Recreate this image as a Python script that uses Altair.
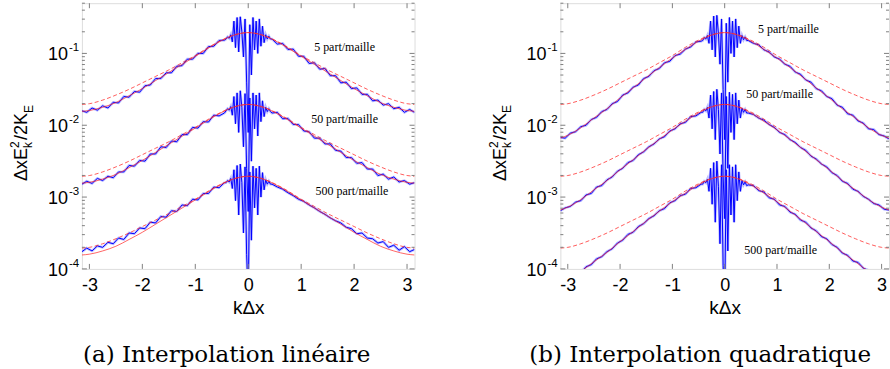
import altair as alt
import pandas as pd

# ---------------- data (log10 of the plotted quantity) ----------------
# abscissa kΔx of the measured (noisy, blue) spectra
k_meas = [-3.14, -3.05, -2.95, -2.85, -2.75, -2.65, -2.55, -2.45, -2.35, -2.25,
          -2.15, -2.05, -1.95, -1.85, -1.75, -1.65, -1.55, -1.45, -1.35, -1.25,
          -1.15, -1.05, -0.95, -0.85, -0.75, -0.65, -0.55, -0.45,
          -0.42, -0.39, -0.36, -0.33, -0.30, -0.27, -0.24, -0.21, -0.18, -0.15,
          -0.12, -0.09, -0.06, -0.03, 0.00, 0.03, 0.06, 0.09, 0.12, 0.15,
          0.18, 0.21, 0.24, 0.27, 0.30, 0.33, 0.36, 0.39, 0.42,
          0.45, 0.55, 0.65, 0.75, 0.85, 0.95, 1.05, 1.15, 1.25, 1.35,
          1.45, 1.55, 1.65, 1.75, 1.85, 1.95, 2.05, 2.15, 2.25, 2.35,
          2.45, 2.55, 2.65, 2.75, 2.85, 2.95, 3.05, 3.14]

# (a) linear interpolation, measured
lin_5_log = ([-1.80, -1.82, -1.76, -1.79, -1.73, -1.76, -1.68, -1.69, -1.60, -1.61, -1.53, -1.54, -1.45, -1.44,
              -1.35, -1.35, -1.27, -1.27, -1.18, -1.17, -1.08, -1.08, -1.00, -1.00, -0.905, -0.90, -0.82, -0.815]
             + [-0.80, -0.77, -0.79, -0.74, -0.84, -0.55, -0.92, -0.50, -0.98, -0.49, -0.70, -1.05, -0.52, -1.40,
                -2.10, -0.60, -1.30, -0.50, -0.95, -0.55, -1.00, -0.52, -0.90, -0.62, -0.85, -0.74, -0.80, -0.76, -0.80]
             + [-0.80, -0.87, -0.86, -0.945, -0.94, -1.04, -1.04, -1.14, -1.13, -1.22, -1.21, -1.31, -1.31, -1.41,
                -1.40, -1.49, -1.48, -1.57, -1.57, -1.66, -1.65, -1.72, -1.70, -1.77, -1.75, -1.82, -1.78, -1.82])
lin_50_log = ([-2.82, -2.78, -2.81, -2.74, -2.77, -2.71, -2.73, -2.65, -2.65, -2.56, -2.57, -2.49, -2.50, -2.40,
               -2.40, -2.30, -2.31, -2.22, -2.23, -2.13, -2.13, -2.03, -2.04, -1.95, -1.955, -1.86, -1.87, -1.83]
              + [-1.80, -1.77, -1.79, -1.74, -1.86, -1.60, -1.98, -1.55, -2.10, -1.52, -1.75, -2.30, -1.56, -2.60,
                 -3.20, -1.62, -2.50, -1.55, -2.05, -1.58, -2.15, -1.55, -1.95, -1.66, -1.88, -1.75, -1.81, -1.77, -1.81]
              + [-1.83, -1.82, -1.91, -1.905, -1.99, -1.99, -2.08, -2.09, -2.18, -2.18, -2.26, -2.26, -2.35, -2.36,
                 -2.45, -2.45, -2.53, -2.52, -2.61, -2.61, -2.70, -2.68, -2.75, -2.72, -2.79, -2.77, -2.82, -2.80])
lin_500_log = ([-3.76, -3.71, -3.75, -3.68, -3.70, -3.63, -3.65, -3.57, -3.59, -3.50, -3.51, -3.43, -3.44, -3.35,
                -3.36, -3.27, -3.28, -3.19, -3.20, -3.11, -3.12, -3.03, -3.04, -2.95, -2.95, -2.86, -2.87, -2.80]
               + [-2.80, -2.77, -2.79, -2.74, -2.88, -2.62, -3.05, -2.56, -3.25, -2.54, -2.80, -3.50, -2.58, -3.80,
                  -4.40, -2.65, -3.60, -2.57, -3.15, -2.60, -3.25, -2.57, -3.00, -2.66, -2.90, -2.76, -2.82, -2.78, -2.82]
               + [-2.82, -2.86, -2.89, -2.94, -2.98, -3.03, -3.06, -3.11, -3.15, -3.20, -3.24, -3.29, -3.33, -3.36,
                  -3.42, -3.44, -3.51, -3.50, -3.57, -3.58, -3.64, -3.62, -3.70, -3.67, -3.74, -3.69, -3.76, -3.73])

# (b) quadratic interpolation, measured
quad_5_log = ([-2.17, -2.18, -2.11, -2.09, -2.02, -2.00, -1.92, -1.89, -1.81, -1.78, -1.70, -1.67, -1.58, -1.55,
               -1.47, -1.44, -1.35, -1.32, -1.24, -1.21, -1.13, -1.11, -1.03, -1.01, -0.94, -0.91, -0.84, -0.83]
              + [-0.82, -0.78, -0.80, -0.75, -0.86, -0.55, -0.95, -0.48, -1.05, -0.47, -0.72, -1.15, -0.52, -1.50,
                 -2.20, -0.58, -1.40, -0.50, -1.00, -0.55, -1.05, -0.52, -0.92, -0.62, -0.86, -0.75, -0.81, -0.77, -0.82]
              + [-0.82, -0.86, -0.88, -0.95, -0.98, -1.05, -1.08, -1.15, -1.18, -1.26, -1.29, -1.37, -1.40, -1.49,
                 -1.52, -1.60, -1.63, -1.72, -1.75, -1.84, -1.86, -1.94, -1.97, -2.05, -2.06, -2.13, -2.15, -2.19])
quad_50_log = ([-3.19, -3.15, -3.13, -3.07, -3.05, -2.97, -2.95, -2.86, -2.84, -2.76, -2.72, -2.64, -2.60, -2.52,
                -2.49, -2.41, -2.37, -2.30, -2.26, -2.19, -2.16, -2.08, -2.05, -1.98, -1.96, -1.88, -1.87, -1.82]
               + [-1.82, -1.78, -1.80, -1.75, -1.90, -1.58, -2.05, -1.53, -2.20, -1.50, -1.78, -2.40, -1.55, -2.70,
                  -3.30, -1.60, -2.60, -1.54, -2.10, -1.57, -2.20, -1.55, -1.98, -1.65, -1.90, -1.76, -1.82, -1.78, -1.83]
               + [-1.83, -1.85, -1.90, -1.93, -1.99, -2.03, -2.10, -2.13, -2.20, -2.24, -2.31, -2.35, -2.43, -2.47,
                  -2.54, -2.58, -2.66, -2.70, -2.78, -2.81, -2.89, -2.92, -2.99, -3.03, -3.09, -3.11, -3.17, -3.18])
quad_500_log = ([-4.20, -4.12, -4.14, -4.06, -4.05, -3.97, -3.94, -3.86, -3.83, -3.76, -3.72, -3.64, -3.60, -3.52,
                 -3.49, -3.41, -3.37, -3.30, -3.26, -3.19, -3.16, -3.08, -3.05, -2.98, -2.96, -2.88, -2.87, -2.82]
                + [-2.82, -2.78, -2.80, -2.75, -2.92, -2.60, -3.10, -2.52, -3.35, -2.50, -2.85, -3.65, -2.55, -3.95,
                   -4.50, -2.62, -3.75, -2.55, -3.25, -2.58, -3.35, -2.55, -3.05, -2.65, -2.92, -2.77, -2.83, -2.79, -2.84]
                + [-2.83, -2.84, -2.91, -2.93, -3.01, -3.03, -3.11, -3.13, -3.21, -3.24, -3.32, -3.35, -3.43, -3.47,
                   -3.55, -3.58, -3.66, -3.70, -3.78, -3.81, -3.89, -3.91, -3.99, -4.02, -4.09, -4.10, -4.17, -4.18])

# theoretical curves (red)
k_theo = [-3.1416, -3.0, -2.75, -2.5, -2.25, -2.0, -1.75, -1.5, -1.25, -1.0, -0.75, -0.5, -0.25, 0.0,
          0.25, 0.5, 0.75, 1.0, 1.25, 1.5, 1.75, 2.0, 2.25, 2.5, 2.75, 3.0, 3.1416]
lin_th_5_log = [-1.806, -1.795, -1.75, -1.685, -1.59, -1.49, -1.378, -1.265, -1.153, -1.04, -0.925, -0.82, -0.742, -0.71,
                -0.742, -0.82, -0.925, -1.04, -1.153, -1.265, -1.378, -1.49, -1.59, -1.685, -1.75, -1.795, -1.806]
lin_th_50_log = [-2.806, -2.795, -2.75, -2.685, -2.59, -2.49, -2.378, -2.265, -2.153, -2.04, -1.925, -1.82, -1.742, -1.71,
                 -1.742, -1.82, -1.925, -2.04, -2.153, -2.265, -2.378, -2.49, -2.59, -2.685, -2.75, -2.795, -2.806]
lin_th_500_log = [-3.806, -3.795, -3.75, -3.685, -3.59, -3.49, -3.378, -3.265, -3.153, -3.04, -2.925, -2.82, -2.742, -2.71,
                  -2.742, -2.82, -2.925, -3.04, -3.153, -3.265, -3.378, -3.49, -3.59, -3.685, -3.75, -3.795, -3.806]
quad_th_5_log = [-2.18, -2.14, -2.035, -1.90, -1.77, -1.62, -1.48, -1.335, -1.197, -1.065, -0.945, -0.83, -0.745, -0.71,
                 -0.745, -0.83, -0.945, -1.065, -1.197, -1.335, -1.48, -1.62, -1.77, -1.90, -2.035, -2.14, -2.18]
quad_th_50_log = [-3.18, -3.14, -3.035, -2.90, -2.77, -2.62, -2.48, -2.335, -2.197, -2.065, -1.945, -1.83, -1.745, -1.71,
                  -1.745, -1.83, -1.945, -2.065, -2.197, -2.335, -2.48, -2.62, -2.77, -2.90, -3.035, -3.14, -3.18]
quad_th_500_log = [-4.18, -4.14, -4.035, -3.90, -3.77, -3.62, -3.48, -3.335, -3.197, -3.065, -2.945, -2.83, -2.745, -2.71,
                   -2.745, -2.83, -2.945, -3.065, -3.197, -3.335, -3.48, -3.62, -3.77, -3.90, -4.035, -4.14, -4.18]
dash_5_log = [-1.71, -1.70, -1.65, -1.58, -1.50, -1.41, -1.32, -1.23, -1.13, -1.03, -0.915, -0.815, -0.74, -0.71,
              -0.74, -0.815, -0.915, -1.03, -1.13, -1.23, -1.32, -1.41, -1.50, -1.58, -1.65, -1.70, -1.71]
dash_50_log = [-2.71, -2.70, -2.65, -2.58, -2.50, -2.41, -2.32, -2.23, -2.13, -2.03, -1.915, -1.815, -1.74, -1.71,
               -1.74, -1.815, -1.915, -2.03, -2.13, -2.23, -2.32, -2.41, -2.50, -2.58, -2.65, -2.70, -2.71]
dash_500_log = [-3.71, -3.70, -3.65, -3.58, -3.50, -3.41, -3.32, -3.23, -3.13, -3.03, -2.915, -2.815, -2.74, -2.71,
                -2.74, -2.815, -2.915, -3.03, -3.13, -3.23, -3.32, -3.41, -3.50, -3.58, -3.65, -3.70, -3.71]

# labels of the curves
note_text = ["5 part/maille", "50 part/maille", "500 part/maille"]
lin_note_k = [1.82, 1.82, 1.96]
lin_note_log = [-0.917, -1.92, -2.92]
quad_note_k = [1.22, 1.05, 1.07]
quad_note_log = [-0.667, -1.57, -3.74]

x_tick_values = [-3, -2, -1, 0, 1, 2, 3]
y_major = [1e-4, 1e-3, 1e-2, 1e-1]
y_major_exp = ["-4", "-3", "-2", "-1"]
y_minor = [m * 10.0 ** e for e in (-4, -3, -2, -1) for m in range(2, 10) if m * 10.0 ** e <= 0.5]

captions = ["(a) Interpolation linéaire", "(b) Interpolation quadratique"]

# ---------------- styling constants ----------------
H = 266
FRAME = "#808080"
SANS = "Liberation Sans"
SERIF = "DejaVu Serif"


def make_panel(width, meas, theo, dash, notes_k, notes_log, caption, cap_x):
    xscale = alt.Scale(domain=[-3.1416, 3.1416], nice=False, zero=False)
    yscale = alt.Scale(type="log", domain=[1e-4, 0.5], nice=False)
    xaxis = alt.Axis(values=x_tick_values, grid=False, ticks=False, domain=False,
                     labelExpr="datum.value < 0 ? '-' + abs(datum.value) : '' + datum.value",
                     labelFont=SANS, labelFontSize=18, labelColor="black", labelPadding=8,
                     labelFlush=False,
                     title="kΔx", titleFont=SANS, titleFontSize=19, titleFontWeight="normal",
                     titleColor="black", titlePadding=4)
    X = alt.X("k:Q", scale=xscale, axis=xaxis)
    Y = alt.Y("v:Q", scale=yscale, axis=None)

    def long(kk, series):
        rows = []
        for name, vals in series:
            for k, lv in zip(kk, vals):
                rows.append({"k": k, "v": 10 ** lv, "s": name})
        return pd.DataFrame(rows)

    meas_df = long(k_meas, meas)
    theo_df = long(k_theo, theo)
    dash_df = long(k_theo, dash)

    halo = alt.Chart(meas_df).mark_line(color="#7a7aff", strokeWidth=2.6, opacity=0.5, clip=True).encode(
        x=X, y=Y, detail="s:N")
    blue = alt.Chart(meas_df).mark_line(color="#0000ff", strokeWidth=1.0, clip=True).encode(
        x=X, y=Y, detail="s:N")
    red = alt.Chart(theo_df).mark_line(color="#ff2a2a", strokeWidth=0.8, opacity=0.9, clip=True,
                                       interpolate="monotone").encode(x=X, y=Y, detail="s:N")
    reddash = alt.Chart(dash_df).mark_line(color="#ff2a2a", strokeWidth=0.9, opacity=0.85, clip=True,
                                           strokeDash=[4, 2.5], interpolate="monotone").encode(
        x=X, y=Y, detail="s:N")

    notes_df = pd.DataFrame({"k": notes_k, "v": [10 ** lv for lv in notes_log], "t": note_text})
    notes = alt.Chart(notes_df).mark_text(font="Liberation Serif", fontSize=12, color="black").encode(
        x=X, y=Y, text="t:N")

    # inward ticks
    xt = pd.DataFrame({"k": x_tick_values})
    xt_bot = alt.Chart(xt).mark_rule(color=FRAME, strokeWidth=1).encode(
        x=X, y=alt.value(H), y2=alt.value(H - 5))
    xt_top = alt.Chart(xt).mark_rule(color=FRAME, strokeWidth=1).encode(
        x=X, y=alt.value(0), y2=alt.value(5))
    ymaj = pd.DataFrame({"v": y_major, "e": y_major_exp, "b": ["10"] * 4})
    ymin = pd.DataFrame({"v": y_minor})
    yt_l = alt.Chart(ymaj).mark_rule(color=FRAME).encode(y=Y, x=alt.value(0), x2=alt.value(5))
    yt_r = alt.Chart(ymaj).mark_rule(color=FRAME).encode(y=Y, x=alt.value(width), x2=alt.value(width - 5))
    ym_l = alt.Chart(ymin).mark_rule(color=FRAME).encode(y=Y, x=alt.value(0), x2=alt.value(3))
    ym_r = alt.Chart(ymin).mark_rule(color=FRAME).encode(y=Y, x=alt.value(width), x2=alt.value(width - 3))

    # y tick labels 10^n
    lab10 = alt.Chart(ymaj).mark_text(font=SANS, fontSize=18, align="right", baseline="middle",
                                      dy=2, color="black").encode(y=Y, x=alt.value(-14), text="b:N")
    labexp = alt.Chart(ymaj).mark_text(font=SANS, fontSize=11.5, align="left", baseline="middle",
                                       dy=-5, color="black").encode(y=Y, x=alt.value(-13), text="e:N")

    # y title  ΔxE²ₖ/2K_E  (rotated pieces)
    tpieces = pd.DataFrame({
        "t": ["ΔxE", "2", "k", "/2K", "E"],
        "px": [-54.5, -62.5, -49.5, -54.5, -49.0],
        "py": [178, 145, 145, 137, 110],
        "fs": [18, 12, 12, 18, 12],
    })
    ytitle = alt.Chart(tpieces).mark_text(font=SANS, angle=270, align="left", baseline="alphabetic",
                                          color="black").encode(
        x=alt.X("px:Q", scale=None), y=alt.Y("py:Q", scale=None), text="t:N",
        size=alt.Size("fs:Q", scale=None, legend=None))

    cap = alt.Chart(pd.DataFrame({"t": [caption]})).mark_text(
        font=SERIF, fontSize=23, align="center", baseline="alphabetic", color="black").encode(
        x=alt.value(cap_x), y=alt.value(359), text="t:N")

    return alt.layer(halo, blue, red, reddash, notes, xt_bot, xt_top, yt_l, yt_r, ym_l, ym_r,
                     lab10, labexp, ytitle, cap).properties(width=width, height=H)


panel_a = make_panel(333,
                     [("5", lin_5_log), ("50", lin_50_log), ("500", lin_500_log)],
                     [("5", lin_th_5_log), ("50", lin_th_50_log), ("500", lin_th_500_log)],
                     [("5", dash_5_log), ("50", dash_50_log), ("500", dash_500_log)],
                     lin_note_k, lin_note_log, captions[0], 145)
panel_b = make_panel(329,
                     [("5", quad_5_log), ("50", quad_50_log), ("500", quad_500_log)],
                     [("5", quad_th_5_log), ("50", quad_th_50_log), ("500", quad_th_500_log)],
                     [("5", dash_5_log), ("50", dash_50_log), ("500", dash_500_log)],
                     quad_note_k, quad_note_log, captions[1], 140)

chart = alt.hconcat(panel_a, panel_b, spacing=72).properties(
    padding={"left": 9, "top": 2, "right": 0, "bottom": 0}
).configure_view(stroke=FRAME, strokeWidth=1).configure(background="white")

chart.save("out.html", embed_options={"renderer": "svg", "actions": False})
